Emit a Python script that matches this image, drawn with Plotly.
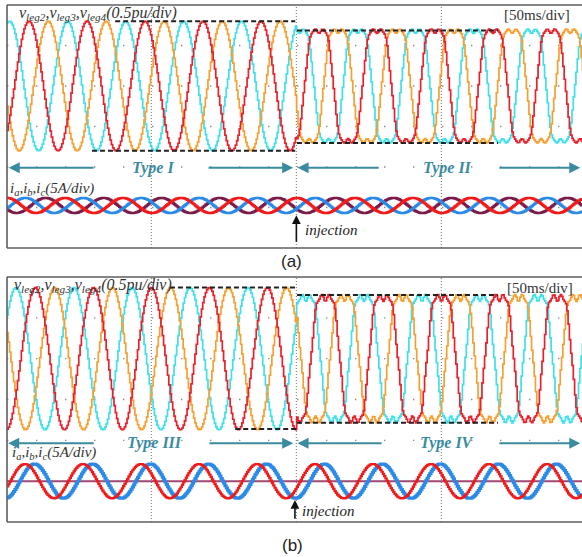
import numpy as np
import plotly.graph_objects as go

# ---------------- values ----------------
T_RANGE_MS = [0.2, 198.5]          # visible time window (ms)
T_INJECT_MS = 100.0                # injection instant (ms)
FREQ_HZ = 50.0                     # fundamental frequency
SAMPLE_MS = 0.45                   # scope sample step
V_SCALE_PU_PER_DIV = 0.5
I_SCALE_A_PER_DIV = 5.0
GRID_T_MS = [50, 100, 150]
GRID_ROWS_DIV = [1, 0, -1, -2, -3]

# voltages: cyan, orange, red (drawing order)
V_COLORS = ["#3fe0ea", "#f5a032", "#e8212b"]
V_PEAK_MS_A = [0.9, 14.2, 7.6]
V_PEAK_MS_B = [3.1, 16.4, 9.8]
V_FUND_PU_A = [0.80, 0.80]     # Type I, Type II
V_FUND_PU_B = [0.87, 0.88]     # Type III, Type IV
V_H3_A = [0.0, 0.167]
V_H3_B = [0.0, 0.167]
V_H9_A = [0.0, -0.02]
V_H9_B = [0.0, -0.035]

# currents: maroon, blue, red (drawing order)
I_COLORS_A = ["#7a1c4a", "#2a8ae8", "#f01a1a"]
I_COLORS_B = ["#a04870", "#2a8ae8", "#f01a1a"]
I_PEAK_MS_A = [13.3, 6.3, 0.0]
I_AMP_A = [0.93, 0.93, 0.93]
I_PEAK_MS_B = [0.0, 9.5, 6.2]
I_AMP_B = [0.0, 2.1, 2.1]
I_OFFSET_DIV = [-2.95, -3.0]
I_WIDTH_A = [2.4, 2.4, 2.4]
I_WIDTH_B = [2.0, 3.0, 2.2]

# dashed envelope guides (pu, start ms, end ms)
DASH_PU_A = [0.80, -0.80, 0.685, -0.705]
DASH_T0_A = [37.5, 29.5, 100.2, 100.2]
DASH_T1_A = [99.6, 99.6, 169.5, 169.5]
DASH_PU_B = [0.87, -0.86, 0.78, -0.785]
DASH_T0_B = [56.4, 78.9, 100.2, 100.2]
DASH_T1_B = [100.0, 100.0, 169.5, 169.5]

TYPE_LABELS_A = ["Type I", "Type II"]
TYPE_LABELS_B = ["Type III", "Type IV"]
# ----------------------------------------------------------------

TEAL = "#3a8ba0"
SERIF = "Liberation Serif"

t = np.arange(T_RANGE_MS[0], T_RANGE_MS[1] + SAMPLE_MS, SAMPLE_MS)
seg = (t >= T_INJECT_MS).astype(int)


def volt(tpk, fund, h3, h9):
    A = np.array(fund)[seg]
    k3 = np.array(h3)[seg]
    k9 = np.array(h9)[seg]
    th = 2 * np.pi * FREQ_HZ * (t - tpk) / 1000.0
    return A * (np.cos(th) - k3 * np.cos(3 * th) + k9 * np.cos(9 * th))


def curr(tpk, amp):
    th = 2 * np.pi * FREQ_HZ * (t - tpk) / 1000.0
    return amp * np.cos(th)


fig = go.Figure()

panels = [
    dict(xa="x", ya="y", peaks=V_PEAK_MS_A, fund=V_FUND_PU_A, h3=V_H3_A, h9=V_H9_A,
         ipk=I_PEAK_MS_A, iamp=I_AMP_A, icol=I_COLORS_A, iw=I_WIDTH_A, ioff=I_OFFSET_DIV[0]),
    dict(xa="x2", ya="y2", peaks=V_PEAK_MS_B, fund=V_FUND_PU_B, h3=V_H3_B, h9=V_H9_B,
         ipk=I_PEAK_MS_B, iamp=I_AMP_B, icol=I_COLORS_B, iw=I_WIDTH_B, ioff=I_OFFSET_DIV[1]),
]

for p in panels:
    for k in range(3):
        v = volt(p["peaks"][k], p["fund"], p["h3"], p["h9"]) / V_SCALE_PU_PER_DIV
        fig.add_trace(go.Scatter(x=t, y=v, mode="lines", line=dict(color=V_COLORS[k], width=1.7, shape="hv"),
                                 xaxis=p["xa"], yaxis=p["ya"], showlegend=False, hoverinfo="skip"))
    for k in range(3):
        i = curr(p["ipk"][k], p["iamp"][k]) / I_SCALE_A_PER_DIV + p["ioff"]
        fig.add_trace(go.Scatter(x=t, y=i, mode="lines", line=dict(color=p["icol"][k], width=p["iw"][k], shape="hv"),
                                 xaxis=p["xa"], yaxis=p["ya"], showlegend=False, hoverinfo="skip"))

W, H = 582, 557
x_dom = [7 / W, 1.0]
y_dom_a = [1 - 248 / H, 1 - 5 / H]
y_dom_b = [1 - 522 / H, 1 - 277 / H]

ax_common = dict(range=T_RANGE_MS, showgrid=False, zeroline=False, showticklabels=False, ticks="", showline=False)
ay_common = dict(range=[-4, 2], showgrid=False, zeroline=False, showticklabels=False, ticks="", showline=False)

shapes = []
annotations = []

for (xr, yr, ydom, dpu, dt0, dt1, labels, lab) in [
    ("x", "y", y_dom_a, DASH_PU_A, DASH_T0_A, DASH_T1_A, TYPE_LABELS_A, "a"),
    ("x2", "y2", y_dom_b, DASH_PU_B, DASH_T0_B, DASH_T1_B, TYPE_LABELS_B, "b"),
]:
    # dotted grid
    for g in GRID_T_MS:
        shapes.append(dict(type="line", xref=xr, yref=yr, x0=g, x1=g, y0=-4, y1=2,
                           line=dict(color="#8a8a8a", width=1.2, dash="1px,2px"), layer="below"))
    for r in GRID_ROWS_DIV:
        shapes.append(dict(type="line", xref=xr, yref=yr, x0=T_RANGE_MS[0], x1=T_RANGE_MS[1], y0=r, y1=r,
                           line=dict(color="#8a8a8a", width=1.4, dash="1.4px,27.6px"), layer="below"))
    # dashed envelopes
    for lv, a0, a1 in zip(dpu, dt0, dt1):
        yv = lv / V_SCALE_PU_PER_DIV
        shapes.append(dict(type="line", xref=xr, yref=yr, x0=a0, x1=a1, y0=yv, y1=yv,
                           line=dict(color="#222222", width=2, dash="5px,3px"), layer="above"))
    # frame (left, top, bottom; right side cropped)
    for (x0, x1, y0, y1) in [(x_dom[0], x_dom[0], ydom[0], ydom[1]),
                             (x_dom[0], 1.0, ydom[1], ydom[1]),
                             (x_dom[0], 1.0, ydom[0], ydom[0])]:
        shapes.append(dict(type="line", xref="paper", yref="paper", x0=x0, x1=x1, y0=y0, y1=y1,
                           line=dict(color="#5e5e5e", width=1.6)))

    if lab == "a":
        yv_lab, x_vlab, yi_lab, x_ilab = 1.78, 3.8, -2.54, 0.6
        y_ms, x_ms = 1.75, 195.1
        y_type = -2.02
        type_x = [50.5, 152.0]
        arrows = [(0.8, 30.6), (98.9, 69.2), (100.4, 128.9), (197.9, 169.5)]
        inj_x, inj_y0, inj_y1, inj_tx, inj_ty = 100.0, -3.88, -3.19, 102.4, -3.56
    else:
        yv_lab, x_vlab, yi_lab, x_ilab = 1.79, 1.8, -2.31, 1.3
        y_ms, x_ms = 1.74, 196.1
        y_type = -2.07
        type_x = [51.2, 152.0]
        arrows = [(0.6, 30.6), (98.9, 69.5), (100.4, 129.9), (197.9, 169.5)]
        inj_x, inj_y0, inj_y1, inj_tx, inj_ty = 99.5, -3.96, -3.46, 101.3, -3.74

    annotations.append(dict(xref=xr, yref=yr, x=x_vlab, y=yv_lab, xanchor="left", yanchor="middle", showarrow=False,
                            text="<i>v</i><sub><i>leg2</i></sub><i>,v</i><sub><i>leg3</i></sub><i>,v</i><sub><i>leg4</i></sub><i>(0.5pu/div)</i>",
                            font=dict(family=SERIF, size=16, color="#333333")))
    annotations.append(dict(xref=xr, yref=yr, x=x_ms, y=y_ms, xanchor="right", yanchor="middle", showarrow=False,
                            text="[50ms/div]", font=dict(family=SERIF, size=15, color="#333333")))
    annotations.append(dict(xref=xr, yref=yr, x=x_ilab, y=yi_lab, xanchor="left", yanchor="middle", showarrow=False,
                            text="<i>i</i><sub><i>a</i></sub><i>,i</i><sub><i>b</i></sub><i>,i</i><sub><i>c</i></sub><i>(5A/div)</i>",
                            font=dict(family=SERIF, size=15, color="#333333")))
    for lbl, tx in zip(labels, type_x):
        annotations.append(dict(xref=xr, yref=yr, x=tx, y=y_type, xanchor="center", yanchor="middle", showarrow=False,
                                text="<b><i>" + lbl + "</i></b>", font=dict(family=SERIF, size=16, color=TEAL)))
    for head, tail in arrows:
        annotations.append(dict(xref=xr, yref=yr, x=head, y=y_type, axref=xr, ayref=yr, ax=tail, ay=y_type,
                                text="", showarrow=True, arrowhead=2, arrowsize=1.1, arrowwidth=2,
                                arrowcolor=TEAL, standoff=0, startstandoff=0))
    annotations.append(dict(xref=xr, yref=yr, x=inj_x, y=inj_y1, axref=xr, ayref=yr, ax=inj_x, ay=inj_y0,
                            text="", showarrow=True, arrowhead=2, arrowsize=1.1, arrowwidth=1.6,
                            arrowcolor="#111111", standoff=0, startstandoff=0))
    annotations.append(dict(xref=xr, yref=yr, x=inj_tx, y=inj_ty, xanchor="left", yanchor="middle", showarrow=False,
                            text="<i>injection</i>", font=dict(family=SERIF, size=15, color="#222222")))

annotations.append(dict(xref="paper", yref="paper", x=291 / W, y=1 - 262 / H, xanchor="center", yanchor="middle",
                        showarrow=False, text="(a)", font=dict(family="Liberation Sans", size=17, color="#222222")))
annotations.append(dict(xref="paper", yref="paper", x=292 / W, y=1 - 545 / H, xanchor="center", yanchor="middle",
                        showarrow=False, text="(b)", font=dict(family="Liberation Sans", size=17, color="#222222")))

fig.update_layout(
    width=W, height=H,
    margin=dict(l=0, r=0, t=0, b=0),
    paper_bgcolor="white", plot_bgcolor="white",
    xaxis=dict(domain=x_dom, anchor="y", **ax_common),
    yaxis=dict(domain=y_dom_a, anchor="x", **ay_common),
    xaxis2=dict(domain=x_dom, anchor="y2", **ax_common),
    yaxis2=dict(domain=y_dom_b, anchor="x2", **ay_common),
    shapes=shapes,
    annotations=annotations,
    showlegend=False,
    hovermode=False,
)

fig.write_html(
    "out.html",
    config={"displayModeBar": False, "staticPlot": True},
    post_script="document.body.style.margin='0';document.body.style.padding='0';document.body.style.overflow='hidden';",
)
